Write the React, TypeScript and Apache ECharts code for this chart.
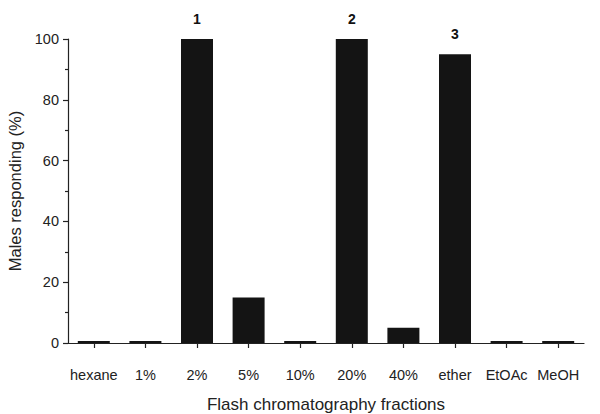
import React, { useEffect, useRef } from "react";
import * as echarts from "echarts";

const categories = ["hexane", "1%", "2%", "5%", "10%", "20%", "40%", "ether", "EtOAc", "MeOH"];
const responding = [0, 0, 100, 15, 0, 100, 5, 95, 0, 0];
const peakLabels = ["", "", "1", "", "", "2", "", "3", "", ""];
const yTicks = [0, 20, 40, 60, 80, 100];

export default function App() {
  const ref = useRef<HTMLDivElement>(null);
  useEffect(() => {
    const chart = echarts.init(ref.current!, null, { renderer: "svg" });
    const font = "'Liberation Sans', Arial, sans-serif";
    chart.setOption({
      animation: false,
      grid: { left: 68, top: 39, right: 16, bottom: 71, outerBoundsMode: "none", containLabel: false },
      xAxis: {
        type: "category",
        data: categories,
        offset: 9,
        axisLine: { show: true, lineStyle: { color: "#222", width: 1.2 } },
        axisTick: { show: true, alignWithLabel: true, length: 5, lineStyle: { color: "#222", width: 1.2 } },
        axisLabel: { color: "#222", fontSize: 14.5, fontFamily: font, margin: 15, interval: 0 },
        name: "Flash chromatography fractions",
        nameLocation: "middle",
        nameGap: 44,
        nameTextStyle: { color: "#222", fontSize: 17, fontFamily: font },
      },
      yAxis: {
        type: "value",
        min: yTicks[0],
        max: yTicks[yTicks.length - 1],
        interval: 20,
        axisLine: { show: true, lineStyle: { color: "#222", width: 1.2 } },
        axisTick: { show: true, length: 5, lineStyle: { color: "#222", width: 1.2 } },
        minorTick: { show: true, splitNumber: 2, length: 3, lineStyle: { color: "#222", width: 1.2 } },
        splitLine: { show: false },
        axisLabel: { color: "#222", fontSize: 14.5, fontFamily: font, margin: 9 },
        name: "Males responding (%)",
        nameLocation: "middle",
        nameGap: 44,
        nameTextStyle: { color: "#222", fontSize: 16.5, fontFamily: font },
      },
      series: [
        {
          type: "bar",
          data: responding.map((v, i) => ({ value: v, peak: peakLabels[i] })),
          barWidth: 32,
          barMinHeight: 2,
          itemStyle: { color: "#141414" },
          label: {
            show: true,
            position: "top",
            distance: 13,
            fontSize: 14,
            fontWeight: "bold",
            fontFamily: font,
            color: "#111",
            formatter: (p: any) => peakLabels[p.dataIndex],
          },
        },
      ],
    });
    return () => chart.dispose();
  }, []);
  return <div ref={ref} style={{ width: 600, height: 414, position: "absolute", left: 0, top: 0 }} />;
}
